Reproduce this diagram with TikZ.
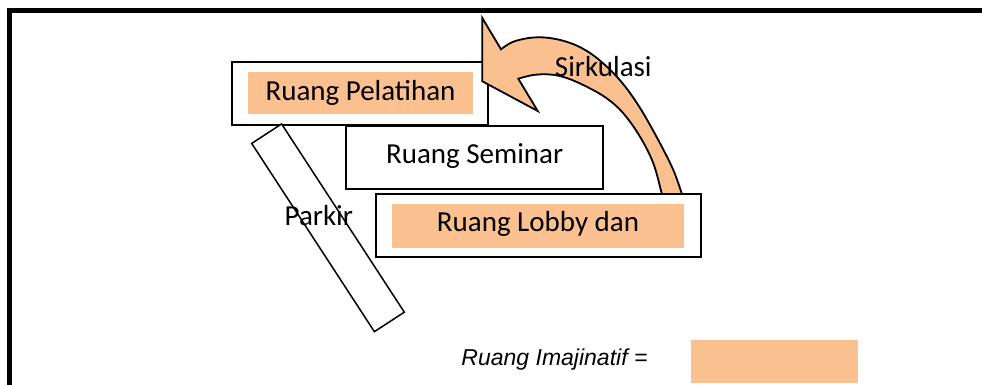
\documentclass[tikz,border=0pt]{standalone}
\usepackage{fontspec}
\setmainfont{Carlito}
\newfontfamily\legendfont{Liberation Sans}
\definecolor{peach}{HTML}{FAC090}
\begin{document}
\begin{tikzpicture}[x=1pt,y=-1pt,
  every node/.style={inner sep=0pt, outer sep=0pt},
  roombox/.style={draw=black, line width=1.8pt, fill=white, rectangle},
  peachbox/.style={fill=peach, rectangle},
  lbl/.style={font=\fontsize{29}{34}\selectfont, text=black, anchor=base},
  frameline/.style={line width=5pt, line join=miter}
]
\useasboundingbox (0,0) rectangle (982,385);

% page frame (top and left edges)
\draw[frameline] (9.8,390) -- (9.8,10.8) -- (990,10.8);

% Ruang Pelatihan
\node[roombox, minimum width=256.6pt, minimum height=63.3pt] (pelatihan) at (360,93.35) {};
\node[peachbox, minimum width=224.4pt, minimum height=41.7pt] (pelatihanin) at (360.5,93.15) {};

% Ruang Seminar
\node[roombox, minimum width=257.3pt, minimum height=63.3pt] (seminar) at (474.65,157.35) {};

% Parkir strip
\node[draw=black, line width=1.5pt, fill=white, minimum width=224.7pt, minimum height=35.7pt,
      rotate=-56.9] (parkir) at (328,227.8) {};

% Sirkulasi curved arrow
\draw[fill=peach, draw=black, line width=1.8pt, line join=miter]
  (482.3,18) -- (501,49.3)
  -- plot[smooth, tension=0.6] coordinates {(501,49.3) (513.3,41.7) (533.3,37.5) (553,38.5)
       (573,44) (590,53) (605,65) (618,78) (630,93) (643.3,113.3) (660,143.3) (673.3,170)
       (681.7,193.3) (684,200)}
  -- (663.5,200)
  -- plot[smooth, tension=0.6] coordinates {(663.5,200) (661.7,193.3) (653.3,163.3) (640,136.7)
       (623.3,113.3) (606.7,98.3) (586.7,86.7) (566.7,78) (550,74.5) (533.3,75) (518.3,78.7)}
  -- (537.7,111) -- (482.3,81.3) -- cycle;

% Ruang Lobby dan
\node[roombox, minimum width=325.3pt, minimum height=63.3pt] (lobby) at (538.35,225.65) {};
\node[peachbox, minimum width=292pt, minimum height=43.7pt] (lobbyin) at (538,225.85) {};

% legend swatch
\node[peachbox, minimum width=167.6pt, minimum height=43.3pt] (swatch) at (774.5,361.65) {};

% labels
\node[lbl] (tpelatihan) at (360.5,100.7) {Ruang Pelatihan};
\node[lbl] (tseminar) at (474.65,164) {Ruang Seminar};
\node[lbl] (tlobby) at (538,231.7) {Ruang Lobby dan};
\node[lbl] (tparkir) at (318.8,225) {Parkir};
\node[lbl] (tsirkulasi) at (603.3,76.5) {Sirkulasi};
\node[anchor=base, font=\legendfont\itshape\fontsize{23}{28}\selectfont] (tlegend) at (554.5,365.5) {Ruang Imajinatif =};
\end{tikzpicture}
\end{document}
